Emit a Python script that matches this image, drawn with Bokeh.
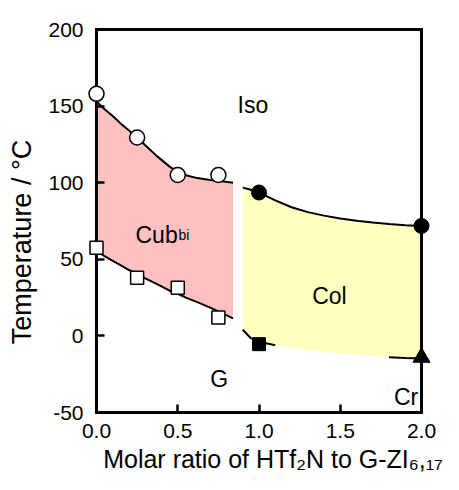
from bokeh.plotting import figure
from bokeh.models import Range1d, LinearAxis, FixedTicker, PrintfTickFormatter
from bokeh.core.properties import value
from bokeh.embed import file_html
from bokeh.resources import INLINE

# ---------------- data ----------------
# Cub(bi) -> Iso transition (open circles)
cub_iso_x = [0.0, 0.25, 0.5, 0.75]
cub_iso_T = [158, 129.5, 105, 105]
# G -> Cub(bi) transition (open squares)
g_cub_x = [0.0, 0.25, 0.5, 0.75]
g_cub_T = [57.6, 38, 31.5, 12]
# Col -> Iso transition (filled circles)
col_iso_x = [1.0, 2.0]
col_iso_T = [93.6, 71.8]
# G -> Col transition (filled square)
g_col_x = [1.0]
g_col_T = [-5.4]
# Cr -> Col transition (filled triangle)
cr_col_x = [2.0]
cr_col_T = [-14]

# Guide curves bounding the phase regions
cub_curve_x = [0.0, 0.05, 0.1, 0.15, 0.2, 0.25, 0.3, 0.37, 0.45, 0.5, 0.55, 0.62, 0.7, 0.75, 0.84]
cub_upper_T = [153, 148, 143.5, 138.5, 134, 129.5, 124.5, 117.5, 110.5, 107, 104.8, 103, 101.8, 101.2, 100]
cub_lower_T = [55.5, 52, 49, 46, 43, 40.5, 37.5, 34, 29.5, 27.5, 25, 22, 18.5, 16, 11.5]

col_curve_x = [0.9, 0.95, 1.0, 1.1, 1.2, 1.3, 1.4, 1.5, 1.6, 1.7, 1.8, 1.9, 2.0]
col_upper_T = [96.8, 95.4, 93.6, 88.5, 84, 80.8, 78.5, 76.7, 75.2, 74, 73, 72.3, 71.8]
col_lower_T = [4, -1.5, -3.8, -6.1, -7.6, -9, -10.2, -11.3, -12.3, -13.2, -13.9, -14.4, -14.7]

# Region labels
region_text = ["Iso", "Cub", "Col", "G", "Cr"]
region_x = [0.868, 0.24, 1.327, 0.70, 1.83]
region_T = [151, 66, 26, -28, -40]
sub_text = ["bi"]
sub_x = [0.505]
sub_T = [66]

x_ticks = [0.0, 0.5, 1.0, 1.5, 2.0]
y_ticks = [-50, 0, 50, 100, 150, 200]
x_lim = (0.0, 2.0)
y_lim = (-50, 200)

# ---------------- figure ----------------
FONT = "Liberation Sans"
px_per_x = 162.5
px_per_T = 1.532
pad_left = 10 / px_per_x
pad_right = 38 / px_per_x
pad_top = 10 / px_per_T
pad_bottom = 52 / px_per_T
shift = 42  # how far the frame reaches below the bottom axis line beyond the usual 10 px

p = figure(width=459, height=490,
           x_range=Range1d(x_lim[0] - pad_left, x_lim[1] + pad_right),
           y_range=Range1d(y_lim[0] - pad_bottom, y_lim[1] + pad_top),
           output_backend="svg", toolbar_location=None,
           x_axis_location=None, y_axis_location=None,
           min_border_left=86, min_border_right=0,
           min_border_top=19, min_border_bottom=26)
p.outline_line_color = None
p.grid.visible = False
p.background_fill_color = "white"
p.border_fill_color = "white"


def frame_axis(ax):
    """Axis line + inward ticks drawn at a fixed data location (no labels)."""
    ax.axis_line_width = 3
    ax.axis_line_color = "black"
    ax.axis_line_cap = "square"
    ax.major_tick_line_width = 2.5
    ax.major_tick_line_color = "black"
    ax.major_tick_in = 8
    ax.major_tick_out = 0
    ax.minor_tick_line_color = None
    ax.major_label_text_color = None
    ax.major_label_text_font_size = "1px"


def label_axis(ax):
    """Axis in the side panel that only carries tick labels and the title."""
    ax.axis_line_color = None
    ax.major_tick_line_color = None
    ax.minor_tick_line_color = None
    ax.major_tick_in = 0
    ax.major_tick_out = 0
    ax.major_label_text_font = FONT
    ax.major_label_text_font_size = "21px"
    ax.major_label_text_color = "black"
    ax.axis_label_text_font = FONT
    ax.axis_label_text_font_size = "25px"
    ax.axis_label_text_font_style = "normal"
    ax.axis_label_text_color = "black"


# frame lines with ticks
xb = LinearAxis(fixed_location=y_lim[0], bounds=x_lim, ticker=FixedTicker(ticks=x_ticks))
frame_axis(xb)
p.add_layout(xb, "below")
yl = LinearAxis(fixed_location=x_lim[0], bounds=y_lim, ticker=FixedTicker(ticks=y_ticks))
frame_axis(yl)
p.add_layout(yl, "left")
xt = LinearAxis(fixed_location=y_lim[1], bounds=x_lim, ticker=FixedTicker(ticks=[]))
frame_axis(xt)
p.add_layout(xt, "above")
yr = LinearAxis(fixed_location=x_lim[1], bounds=y_lim, ticker=FixedTicker(ticks=[]))
frame_axis(yr)
p.add_layout(yr, "right")

# tick labels and titles
xlab = LinearAxis(ticker=FixedTicker(ticks=x_ticks),
                  formatter=PrintfTickFormatter(format="%.1f"),
                  axis_label="Molar ratio of HTf\u2082N to G-ZI\u2086,\u2081\u2087")
label_axis(xlab)
xlab.major_label_standoff = 1 - shift
xlab.axis_label_standoff = 4
p.add_layout(xlab, "below")

ylab = LinearAxis(ticker=FixedTicker(ticks=y_ticks),
                  formatter=PrintfTickFormatter(format="%d"),
                  axis_label="Temperature / \u00b0C")
label_axis(ylab)
ylab.axis_label_text_font_size = "27px"
ylab.major_label_standoff = 3
ylab.axis_label_standoff = 8
p.add_layout(ylab, "left")

# fills
p.varea(x=cub_curve_x, y1=cub_lower_T, y2=cub_upper_T, fill_color="#FFC0C0", level="underlay")
p.varea(x=col_curve_x, y1=col_lower_T, y2=col_upper_T, fill_color="#FFFFC0", level="underlay")

# boundary curves
p.line(cub_curve_x, cub_upper_T, line_color="black", line_width=2)
p.line(cub_curve_x, cub_lower_T, line_color="black", line_width=2)
p.line(col_curve_x, col_upper_T, line_color="black", line_width=2)
p.line(col_curve_x[:4], col_lower_T[:4], line_color="black", line_width=2)
p.line(col_curve_x[10:], col_lower_T[10:], line_color="black", line_width=2)

# markers
p.scatter(cub_iso_x, cub_iso_T, marker="circle", size=15, fill_color="white",
          line_color="black", line_width=1.5, level="overlay")
p.scatter(g_cub_x, g_cub_T, marker="square", size=13, fill_color="white",
          line_color="black", line_width=1.5, level="overlay")
p.scatter(col_iso_x, col_iso_T, marker="circle", size=15, fill_color="black",
          line_color="black", level="overlay")
p.scatter(g_col_x, g_col_T, marker="square", size=13, fill_color="black",
          line_color="black", level="overlay")
p.scatter(cr_col_x, cr_col_T, marker="triangle", size=17, fill_color="black",
          line_color="black", level="overlay")

# region labels
p.text(x=region_x, y=region_T, text=region_text, text_font=value(FONT),
       text_font_size="23px", text_color="black",
       text_align="left", text_baseline="alphabetic")
p.text(x=sub_x, y=sub_T, text=sub_text, text_font=value(FONT),
       text_font_size="14px", text_color="black",
       text_align="left", text_baseline="alphabetic")

open("out.html", "w").write(file_html(p, INLINE))
